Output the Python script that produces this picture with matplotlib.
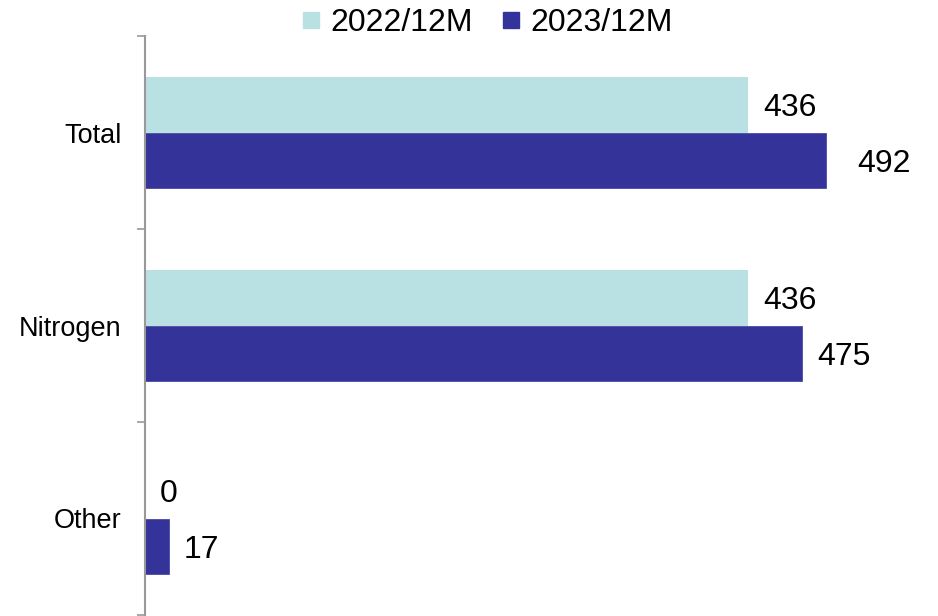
import matplotlib
matplotlib.use("Agg")
import matplotlib.pyplot as plt
from matplotlib.lines import Line2D
import matplotlib.transforms as mtransforms
import numpy as np

plt.rcParams['font.family'] = ['Liberation Sans', 'DejaVu Sans']

categories = ["Total", "Nitrogen", "Other"]
series_names = ["2022/12M", "2023/12M"]
values_2022 = [436, 436, 0]
values_2023 = [492, 475, 17]

c_light = "#B9E1E3"
c_dark = "#333399"

W, H = 938, 616
fig = plt.figure(figsize=(W / 100, H / 100), dpi=100)
ax = fig.add_axes([145 / W, 1 - 615 / H, (W - 145) / W, (615 - 36) / H])

y = np.arange(len(categories))
h = 0.285
ax.barh(y - h / 2, values_2022, height=h, color=c_light)
ax.barh(y + h / 2, values_2023, height=h, color=c_dark, edgecolor="#4a4aa8", linewidth=0.6)

ax.set_xlim(0, 573)
ax.set_ylim(2.5, -0.5)

def pad_for(series, idx):
    # the reference places the top dark label a little further out
    return 31 if (series == 1 and idx == 0) else 15

for s_i, vals in enumerate([values_2022, values_2023]):
    for i, v in enumerate(vals):
        off = mtransforms.offset_copy(ax.transData, fig=fig, x=pad_for(s_i, i), y=0, units='dots')
        yy = i - h / 2 if s_i == 0 else i + h / 2
        ax.text(v, yy, str(v), transform=off, ha='left', va='center_baseline', fontsize=23)

for s in ["top", "right", "bottom"]:
    ax.spines[s].set_visible(False)
ax.spines["left"].set_color("#999999")
ax.spines["left"].set_linewidth(1.5)
ax.set_xticks([])
ax.set_yticks([-0.5, 0.5, 1.5, 2.5])
ax.set_yticklabels([])
ax.tick_params(axis='y', which='major', length=6, width=1.2, color="#999999")
ax.set_yticks(y, minor=True)
ax.set_yticklabels(categories, minor=True, fontsize=19.5, va='center_baseline')
ax.tick_params(axis='y', which='minor', length=0, pad=17)

handles = [Line2D([], [], marker='s', linestyle='none', markersize=12, color=c)
           for c in (c_light, c_dark)]
fig.legend(handles, series_names, loc='center', bbox_to_anchor=(487 / W, 1 - 23 / H),
           ncol=2, frameon=False, fontsize=23, handlelength=0.6, handletextpad=0.3,
           columnspacing=0.9, borderaxespad=0, borderpad=0)

fig.savefig("out.png", dpi=100)
